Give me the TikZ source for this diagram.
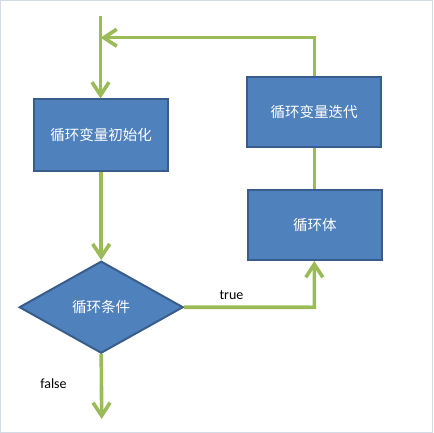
\documentclass[tikz,border=0pt]{standalone}
\usepackage{fontspec}
\setmainfont{Carlito}
\newfontfamily\cjk{Noto Sans CJK SC}
\usetikzlibrary{shapes.geometric,arrows.meta}
\definecolor{boxfill}{HTML}{4F81BD}
\definecolor{boxline}{HTML}{385D8A}
\definecolor{flow}{HTML}{9BBB59}
\definecolor{frame}{HTML}{D3DBE6}
\tikzset{
  stepbox/.style={rectangle, draw=boxline, line width=2pt, fill=boxfill,
    text=white, font=\cjk\fontsize{14.5}{16}\selectfont, inner sep=0pt},
  decision/.style={diamond, draw=boxline, line width=2pt, fill=boxfill,
    text=white, font=\cjk\fontsize{14.5}{16}\selectfont, inner sep=0pt,
    minimum width=164pt, minimum height=92pt, aspect=1.78},
  flowline/.style={draw=flow, line width=3.6pt},
  flowarrow/.style={flowline, -{Straight Barb[length=13pt,width=17pt]}},
  lbl/.style={font=\fontsize{14}{16}\selectfont, text=black, inner sep=0pt}
}
\begin{document}
\begin{tikzpicture}[x=1pt,y=-1pt]
\useasboundingbox (0,0) rectangle (433,433);
\draw[frame, line width=1pt] (0.5,0.5) rectangle (432.5,432.5);

\node[stepbox, minimum width=134pt, minimum height=71pt] (init) at (101.2,135) {循环变量初始化};
\node[stepbox, minimum width=134pt, minimum height=70pt] (iter) at (314,111.6) {循环变量迭代};
\node[stepbox, minimum width=134pt, minimum height=70pt] (body) at (314.8,225) {循环体};
\node[decision] (cond) at (101.2,307.2) {循环条件};

\coordinate (start) at (100.5,16);
\coordinate (merge) at (100.5,37.7);
\coordinate (corner) at (314.3,37.7);
\coordinate (tcorner) at (314.3,307.3);
\coordinate (finish) at (101.7,419);

\draw[flowarrow] (start) -- (start |- init.north);
\draw[flowarrow] (corner |- iter.north) -- (corner) -- (merge);
\draw[flowline] (corner |- iter.south) -- (corner |- body.north);
\draw[flowarrow] (init.south) -- (cond.north);
\draw[flowarrow] (cond.east) -- (tcorner) -- (tcorner |- body.south);
\draw[flowarrow] (cond.south) -- (finish);

\node[lbl] (truelbl) at (231.5,295) {true};
\node[lbl] (falselbl) at (53.5,384) {false};
\end{tikzpicture}
\end{document}
